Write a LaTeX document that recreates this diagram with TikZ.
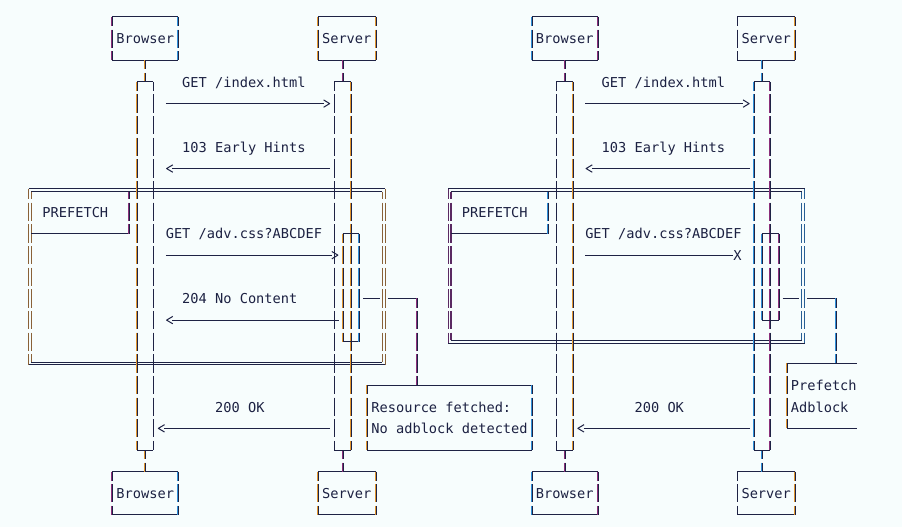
\documentclass[tikz,border=0pt]{standalone}
\usepackage{fontspec}
\setmonofont{DejaVu Sans Mono}
\definecolor{bg}{HTML}{F7FDFD}
\definecolor{ink}{HTML}{1E2244}
\definecolor{txtc}{HTML}{1C2142}
\definecolor{fo}{HTML}{E0952E}
\definecolor{fp}{HTML}{8B2F7A}
\definecolor{fb}{HTML}{3090D8}
\tikzset{
 vl/.style={line width=0.9pt, dash pattern=on 18.25pt off 3.4pt, dash phase=#1},
 vl/.default=9.125pt,
 hl/.style={ink, line width=1pt, line join=round},
 txt/.style={inner sep=0pt, outer sep=0pt, anchor=base west, text=txtc,
   font=\ttfamily\fontsize{13.66pt}{16pt}\selectfont},
}
\newcommand\VL[4]{%
 \draw[vl,#1] ([xshift=-0.45pt]#2,#3) -- ([xshift=-0.45pt]#2,#4);
 \draw[vl,ink] ([xshift=0.45pt]#2,#3) -- ([xshift=0.45pt]#2,#4);}
\newcommand\HL[3]{\draw[hl] (#1,#3) -- (#2,#3);}
\newcommand\TX[4]{\node[txt] (#1) at ([yshift=-5.3pt]#2-0.5,#3) {#4};}
\newcommand\RA[3]{%
 \draw[hl] (#1-0.5,#3) -- ([xshift=1.5pt]#2-0.5,#3);
 \draw[hl] ([xshift=1.5pt,yshift=3.7pt]#2-0.5,#3) -- ([xshift=7.6pt]#2-0.5,#3) -- ([xshift=1.5pt,yshift=-3.7pt]#2-0.5,#3);}
\newcommand\LA[3]{%
 \draw[hl] ([xshift=6.5pt]#1-0.5,#3) -- (#2+0.5,#3);
 \draw[hl] ([xshift=7pt,yshift=3.7pt]#1-0.5,#3) -- ([xshift=0.8pt]#1-0.5,#3) -- ([xshift=7pt,yshift=-3.7pt]#1-0.5,#3);}
\newcommand\BOX[6]{%
 \HL{#1}{#2}{#3}\HL{#1}{#2}{#4}%
 \VL{#5}{#1}{#3}{#4}\VL{#6}{#2}{#3}{#4}}
\newcommand\FRAME[8]{%
 \draw[hl,line width=0.9pt] ([xshift=-1.4pt,yshift=1.4pt]#1,#3) -- ([xshift=1.4pt,yshift=1.4pt]#2,#3);
 \draw[hl,line width=0.9pt] ([xshift=1.4pt,yshift=-1.4pt]#1,#3) -- ([xshift=-1.4pt,yshift=-1.4pt]#2,#3);
 \draw[hl,line width=0.9pt] ([xshift=-1.4pt,yshift=-1.4pt]#1,#4) -- ([xshift=1.4pt,yshift=-1.4pt]#2,#4);
 \draw[hl,line width=0.9pt] ([xshift=1.4pt,yshift=1.4pt]#1,#4) -- ([xshift=-1.4pt,yshift=1.4pt]#2,#4);
 \draw[vl=7.725pt,line width=1.1pt,#5] ([xshift=-1.4pt,yshift=1.4pt]#1,#3) -- ([xshift=-1.4pt,yshift=-1.4pt]#1,#4);
 \draw[vl=10.525pt,line width=1.1pt,#5] ([xshift=1.4pt,yshift=-1.4pt]#1,#3) -- ([xshift=1.4pt,yshift=1.4pt]#1,#4);
 \draw[vl=7.725pt,line width=1.1pt,#6] ([xshift=1.4pt,yshift=1.4pt]#2,#3) -- ([xshift=1.4pt,yshift=-1.4pt]#2,#4);
 \draw[vl=10.525pt,line width=1.1pt,#6] ([xshift=-1.4pt,yshift=-1.4pt]#2,#3) -- ([xshift=-1.4pt,yshift=1.4pt]#2,#4);
 \draw[hl] ([xshift=1.4pt]#1,#3+2) -- (#7,#3+2);
 \draw[vl=10.525pt,#8] ([xshift=-0.45pt,yshift=-1.4pt]#7,#3) -- ([xshift=-0.45pt]#7,#3+2);
 \draw[vl=10.525pt,ink] ([xshift=0.45pt,yshift=-1.4pt]#7,#3) -- ([xshift=0.45pt]#7,#3+2);
}
\begin{document}
\begin{tikzpicture}[x=8.225pt,y=-21.65pt]
\path[fill=bg,use as bounding box] (-5.4pt,17pt) rectangle (896.6pt,-510pt);
% ================= left diagram =================
\FRAME{3}{46}{8}{16}{fo!55!ink}{fo!55!ink}{15}{fp}
\BOX{13}{21}{0}{2}{fp}{fb}
\BOX{38}{45}{0}{2}{fo}{fo}
\BOX{13}{21}{21}{23}{fp}{fb}
\BOX{38}{45}{21}{23}{fo}{fo}
\VL{fo}{17}{2}{3}\VL{fo}{17}{20}{21}
\VL{fp}{41}{2}{3}\VL{fp}{41}{20}{21}
\BOX{16}{18}{3}{20}{fo}{fo}
\BOX{40}{42}{3}{20}{fp}{fo}
\BOX{41}{43}{10}{15}{fo}{fb}
\HL{43.5}{45.5}{13}\HL{46.5}{50}{13}
\VL{fp}{50}{13}{17}
\BOX{44}{64}{17}{20}{fo}{fb}
\RA{20}{39}{4}
\LA{20}{39}{7}
\RA{20}{40}{11}
\LA{20}{40}{14}
\LA{19}{39}{19}
\TX{b1}{14}{1}{Browser}
\TX{s1}{39}{1}{Server}
\TX{b2}{14}{22}{Browser}
\TX{s2}{39}{22}{Server}
\TX{m1}{22}{3}{GET /index.html}
\TX{m2}{22}{6}{103 Early Hints}
\TX{pf1}{5}{9}{PREFETCH}
\TX{m3}{20}{10}{GET /adv.css?ABCDEF}
\TX{m4}{22}{13}{204 No Content}
\TX{m5}{26}{18}{200 OK}
\TX{n1}{45}{18}{Resource fetched:}
\TX{n2}{45}{19}{No adblock detected}
% ================= right diagram =================
\FRAME{54}{97}{8}{15}{fp!55!ink}{fb!55!ink}{66}{fb}
\BOX{64}{72}{0}{2}{fb}{fp}
\BOX{89}{96}{0}{2}{fo}{fo}
\BOX{64}{72}{21}{23}{fb}{fp}
\BOX{89}{96}{21}{23}{fo}{fo}
\VL{fp}{68}{2}{3}\VL{fp}{68}{20}{21}
\VL{fb}{92}{2}{3}\VL{fb}{92}{20}{21}
\BOX{67}{69}{3}{20}{fp}{fo}
\BOX{91}{93}{3}{20}{fb}{fp}
\BOX{92}{94}{10}{14}{fb}{fp}
\HL{94.5}{96.5}{13}\HL{97.5}{101}{13}
\VL{fb}{101}{13}{16}
\HL{95}{103.5}{16}\HL{95}{103.5}{19}
\VL{fo}{95}{16}{19}
\RA{71}{90}{4}
\LA{71}{90}{7}
\HL{70.5}{88.5}{11}
\LA{70}{90}{19}
\TX{b3}{65}{1}{Browser}
\TX{s3}{90}{1}{Server}
\TX{b4}{65}{22}{Browser}
\TX{s4}{90}{22}{Server}
\TX{r1}{73}{3}{GET /index.html}
\TX{r2}{73}{6}{103 Early Hints}
\TX{pf2}{56}{9}{PREFETCH}
\TX{r3}{71}{10}{GET /adv.css?ABCDEF}
\TX{xx}{89}{11}{X}
\TX{r5}{77}{18}{200 OK}
\TX{n3}{96}{17}{Prefetch}
\TX{n4}{96}{18}{Adblock}
\end{tikzpicture}
\end{document}
